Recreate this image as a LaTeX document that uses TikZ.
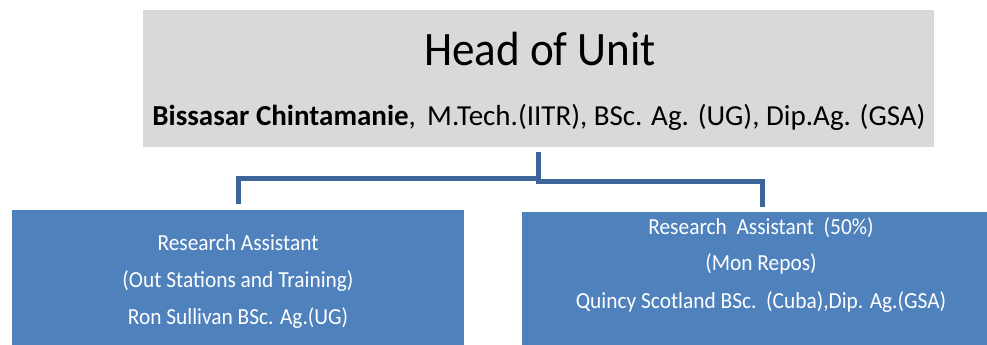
\documentclass[tikz,border=0pt]{standalone}
\usepackage{fontspec}
\setmainfont{Carlito}
\definecolor{headgray}{RGB}{217,217,217}
\definecolor{boxblue}{RGB}{79,129,189}
\definecolor{linkblue}{RGB}{62,101,152}
\newcommand{\narrow}[2]{\scalebox{#1}[1]{#2}}
\begin{document}
\begin{tikzpicture}[x=1pt,y=-1pt,
  panel/.style={draw=none,inner sep=0pt,outer sep=0pt},
  conn/.style={draw=linkblue,line width=5pt},
  bluetext/.style={text=white,font=\fontsize{23}{26}\selectfont,anchor=base,inner sep=0pt}]
\useasboundingbox (0,0) rectangle (987,345);
% boxes
\node[panel,fill=headgray,minimum width=791pt,minimum height=137pt] (head) at (538.5,78.5) {};
\node[panel,fill=boxblue,minimum width=452pt,minimum height=135pt] (left) at (238,277.5) {};
\node[panel,fill=boxblue,minimum width=465pt,minimum height=133pt] (right) at (754.5,278.5) {};
% head texts
\node[anchor=base,inner sep=0pt,font=\fontsize{48}{52}\selectfont] (title) at (540,65) {\narrow{0.94}{Head of Unit}};
\node[anchor=base,inner sep=0pt,font=\fontsize{29}{32}\selectfont] (who) at (539,125)
  {\textbf{Bissasar Chintamanie},\, M.Tech.(IITR), BSc. Ag. (UG), Dip.Ag. (GSA)};
% left box texts
\node[bluetext] (l1) at (238,250) {\narrow{0.93}{Research Assistant}};
\node[bluetext] (l2) at (238,287) {\narrow{0.93}{(Out Stations and Training)}};
\node[bluetext] (l3) at (238,324) {\narrow{0.93}{Ron Sullivan BSc. Ag.(UG)}};
% right box texts
\node[bluetext] (r1) at (761,234) {\narrow{0.93}{Research\ \ Assistant\ \ (50\%)}};
\node[bluetext] (r2) at (761,270) {\narrow{0.93}{(Mon Repos)}};
\node[bluetext] (r3) at (761,308) {\narrow{0.93}{Quincy Scotland\ BSc.\ \ (Cuba),Dip. Ag.(GSA)}};
% connectors
\draw[conn] ([yshift=-5pt]head.south) -- ++(0,26) -| ([yshift=6pt]left.north);
\draw[conn] ([yshift=-5pt]head.south) -- ++(0,29) -| ([xshift=7.5pt,yshift=5pt]right.north);
\end{tikzpicture}
\end{document}
